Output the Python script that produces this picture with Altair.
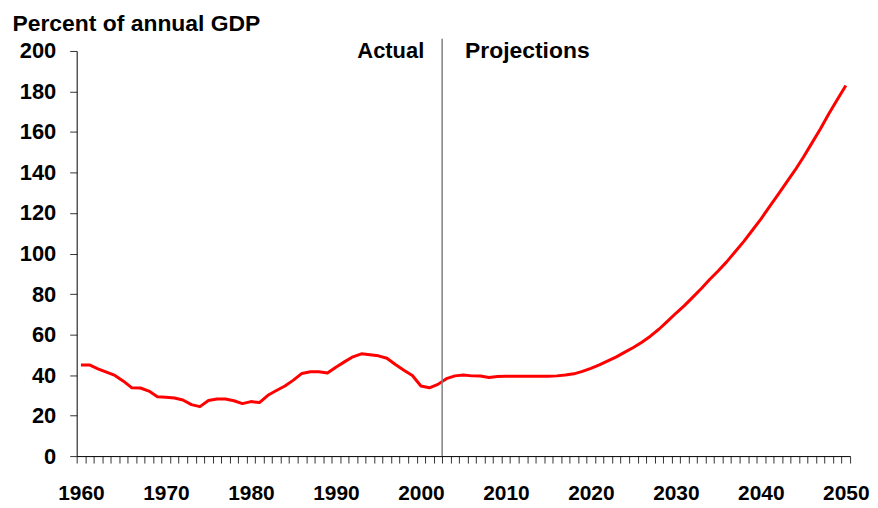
import altair as alt
import pandas as pd

years = list(range(1960, 2051))
debt = [
    45.0, 45.0, 43.1, 41.4, 39.8, 37.0, 33.7, 33.6, 32.1, 29.3,   # 1960-1969
    29.1, 28.7, 27.7, 25.4, 24.4, 27.4, 28.2, 28.2, 27.3, 25.9,   # 1970-1979
    26.9, 26.4, 30.0, 32.4, 34.6, 37.5, 40.8, 41.6, 41.6, 41.0,   # 1980-1989
    43.9, 46.5, 49.0, 50.5, 50.0, 49.5, 48.3, 45.2, 42.4, 39.8,   # 1990-1999
    34.6, 33.7, 35.4, 38.2, 39.6, 40.0, 39.6, 39.5, 38.8, 39.3,   # 2000-2009
    39.4, 39.4, 39.4, 39.4, 39.4, 39.4, 39.6, 40.0, 40.6, 41.8,   # 2010-2019
    43.3, 45.0, 47.0, 49.0, 51.3, 53.6, 56.2, 59.2, 62.6, 66.5,   # 2020-2029
    70.5, 74.3, 78.5, 82.7, 87.3, 91.5, 96.0, 101.0, 106.0, 111.5,  # 2030-2039
    117.0, 123.0, 129.0, 135.0, 141.0, 147.5, 154.5, 161.5, 169.0, 176.0,  # 2040-2049
    183.0,  # 2050
]

divider_year = [2002.5]
divider_top = [206]
period_labels = ["Actual", "Projections"]
y_ticks = list(range(0, 201, 20))
x_tick_positions = [1959.5 + i for i in range(92)]

df = pd.DataFrame({"year": years, "debt": debt})
div_df = pd.DataFrame({"year": divider_year, "bottom": [0], "top": divider_top})
lab_df = pd.DataFrame({"year": divider_year * 2, "label": period_labels, "y": [200, 200]})

W, H = 777, 407
half_year_px = W / 91 / 2

x_scale = alt.Scale(domain=[1959.5, 2050.5], nice=False, zero=False)
y_scale = alt.Scale(domain=[0, 200], nice=False)

x_axis = alt.Axis(
    values=x_tick_positions,
    tickCount=500,
    labelExpr="(datum.value + 0.5) % 10 == 0 ? toString(datum.value + 0.5) : ''",
    labelOffset=half_year_px,
    labelOverlap=False,
    labelFlush=False,
    labelFont="Liberation Sans Narrow, Arial Narrow, Liberation Sans, Arial",
    labelFontSize=21,
    labelFontWeight="bold",
    labelColor="black",
    labelPadding=20,
    tickSize=7,
    tickColor="#333333",
    domainColor="black",
    domainWidth=1,
    grid=False,
    title=None,
)

y_axis = alt.Axis(
    values=y_ticks,
    format="d",
    labelFont="Liberation Sans, Arial",
    labelFontSize=22,
    labelFontWeight="bold",
    labelColor="black",
    labelPadding=14,
    tickSize=7,
    tickColor="#333333",
    domainColor="black",
    domainWidth=1,
    grid=False,
    title="Percent of annual GDP",
    titleAngle=0,
    titleAlign="left",
    titleBaseline="alphabetic",
    titleX=-65,
    titleY=-21,
    titleFont="Liberation Sans, Arial",
    titleFontSize=23,
    titleFontWeight="bold",
    titleColor="black",
)

line = alt.Chart(df).mark_line(color="#FF0000", strokeWidth=3, strokeJoin="round").encode(
    x=alt.X("year:Q", scale=x_scale, axis=x_axis),
    y=alt.Y("debt:Q", scale=y_scale, axis=y_axis),
)

rule = alt.Chart(div_df).mark_rule(color="#808080", strokeWidth=1.5).encode(
    x=alt.X("year:Q", scale=x_scale),
    y=alt.Y("bottom:Q", scale=y_scale),
    y2="top:Q",
)

base_text = alt.Chart(lab_df).encode(
    x=alt.X("year:Q", scale=x_scale),
    y=alt.Y("y:Q", scale=y_scale),
    text="label:N",
)
txt_left = base_text.transform_filter(alt.datum.label == "Actual").mark_text(
    align="right", baseline="alphabetic", dx=-18, dy=7,
    font="Liberation Sans, Arial", fontSize=22, fontWeight="bold", color="black",
)
txt_right = base_text.transform_filter(alt.datum.label == "Projections").mark_text(
    align="left", baseline="alphabetic", dx=23, dy=7,
    font="Liberation Sans, Arial", fontSize=23, fontWeight="bold", color="black",
)

chart = alt.layer(line, rule, txt_left, txt_right).properties(
    width=W,
    height=H,
    padding={"left": 69, "top": 42, "right": 20, "bottom": 52},
    autosize=alt.AutoSizeParams(type="none"),
    background="white",
).configure_view(stroke=None)

chart.save("out.html", embed_options={"renderer": "svg", "actions": False})
